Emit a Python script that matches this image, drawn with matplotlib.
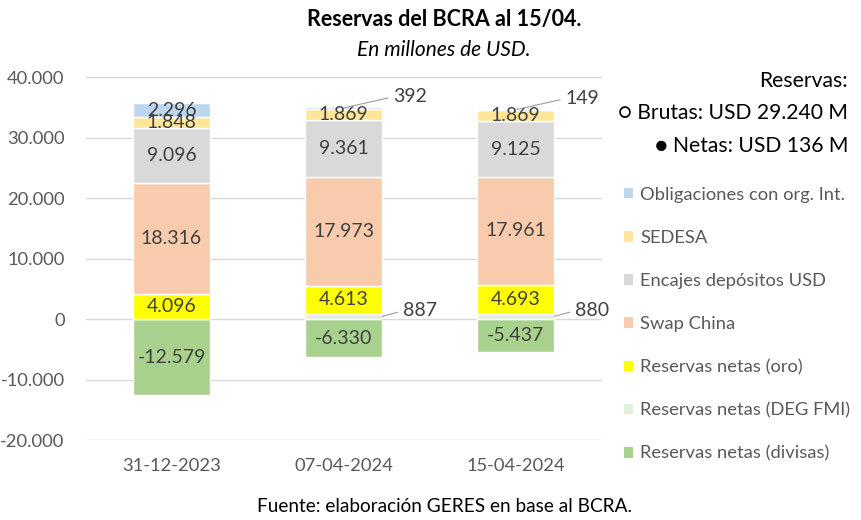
import matplotlib
matplotlib.use("Agg")
import matplotlib.pyplot as plt
from matplotlib.patches import Patch
import numpy as np

plt.rcParams['font.family'] = ['Lato', 'DejaVu Sans']

categories = ["31-12-2023", "07-04-2024", "15-04-2024"]
series_names = ["Reservas netas (divisas)", "Reservas netas (DEG FMI)", "Reservas netas (oro)",
                "Swap China", "Encajes depósitos USD", "SEDESA", "Obligaciones con org. Int."]
divisas = [-12579, -6330, -5437]
deg_fmi = [0, 887, 880]
oro = [4096, 4613, 4693]
swap_china = [18316, 17973, 17961]
encajes = [9096, 9361, 9125]
sedesa = [1848, 1869, 1869]
obligaciones = [2296, 392, 149]
y_ticks = [-20000, -10000, 0, 10000, 20000, 30000, 40000]
title = "Reservas del BCRA al 15/04."
subtitle = "En millones de USD."
source = "Fuente: elaboración GERES en base al BCRA."
brutas_text = "Brutas: USD 29.240 M"
netas_text = "Netas: USD 136 M"

colors = ["#A9D18E", "#E2EFDA", "#FFFF00", "#F8CBAD", "#D9D9D9", "#FFE699", "#BDD7EE"]
values = [divisas, deg_fmi, oro, swap_china, encajes, sedesa, obligaciones]

def fmt(v):
    s = f"{abs(int(v)):,}".replace(",", ".")
    return ("-" + s) if v < 0 else s

fig = plt.figure(figsize=(8.62, 5.2), dpi=100)
ax = fig.add_axes([0.0992, 0.1538, 0.5986, 0.698])

x = np.arange(len(categories))
w = 0.45
pos_base = np.zeros(len(categories))
neg_base = np.zeros(len(categories))
txt_color = "#404040"
lab_fs = 14
# label offsets (points) for small segments drawn outside
outside = {1: ("edge", (15, 4)), 6: ("center", (36, 8))}
for i, (name, vals, c) in enumerate(zip(series_names, values, colors)):
    vals = np.array(vals, dtype=float)
    bottoms = np.where(vals >= 0, pos_base, neg_base)
    ax.bar(x, vals, w, bottom=bottoms, color=c, edgecolor="white", linewidth=1.0,
           label=name, zorder=3)
    for j, v in enumerate(vals):
        if v == 0:
            continue
        yc = bottoms[j] + v / 2
        if abs(v) < 1000:
            anchor, off = outside.get(i, ("edge", (15, 4)))
            xa = x[j] + (w / 2 if anchor == "edge" else 0)
            ax.annotate(fmt(v), xy=(xa, yc), xytext=off, textcoords="offset points",
                        ha="left", va="center", fontsize=lab_fs, color=txt_color,
                        arrowprops=dict(arrowstyle="-", color="#A6A6A6", lw=0.9,
                                        shrinkA=2, shrinkB=0, relpos=(0, 0.5)),
                        zorder=5)
        else:
            ax.text(x[j], yc, fmt(v), ha="center", va="center", fontsize=lab_fs,
                    color=txt_color, zorder=5)
    pos_base = pos_base + np.where(vals >= 0, vals, 0)
    neg_base = neg_base + np.where(vals < 0, vals, 0)

ax.set_xlim(-0.5, 2.5)
ax.set_ylim(-20000, 40000)
ax.set_yticks(y_ticks)
ax.set_yticklabels([fmt(t) for t in y_ticks])
ax.set_xticks(x)
ax.set_xticklabels(categories)
ax.tick_params(axis="both", length=0, labelsize=13.2, colors="#595959")
ax.tick_params(axis="y", pad=15)
ax.tick_params(axis="x", pad=13)
ax.grid(axis="y", color="#D9D9D9", linewidth=1, zorder=0)
for s in ax.spines.values():
    s.set_visible(False)

handles = [Patch(facecolor=c, edgecolor="none") for c in colors][::-1]
labels = series_names[::-1]
leg = fig.legend(handles, labels, loc="upper left", bbox_to_anchor=(0.715, 0.655),
                 frameon=False, fontsize=13.2, handlelength=0.5, handleheight=0.5,
                 handletextpad=0.4, labelspacing=1.48, borderaxespad=0)
for t in leg.get_texts():
    t.set_color("#595959")

fig.text(0.515, 0.962, title, ha="center", va="center", fontsize=15.5, fontweight="bold")
fig.text(0.515, 0.904, subtitle, ha="center", va="center", fontsize=15, style="italic")
fig.text(0.516, 0.025, source, ha="center", va="center", fontsize=13.7)

fig.text(0.984, 0.845, "Reservas:", ha="right", va="center", fontsize=15.2)
fig.text(0.984, 0.783, "○ " + brutas_text, ha="right", va="center", fontsize=15.2,
         family=["Lato", "DejaVu Sans"])
fig.text(0.984, 0.72, "● " + netas_text, ha="right", va="center", fontsize=15.2,
         family=["Lato", "DejaVu Sans"])

fig.savefig("out.png", dpi=100)
